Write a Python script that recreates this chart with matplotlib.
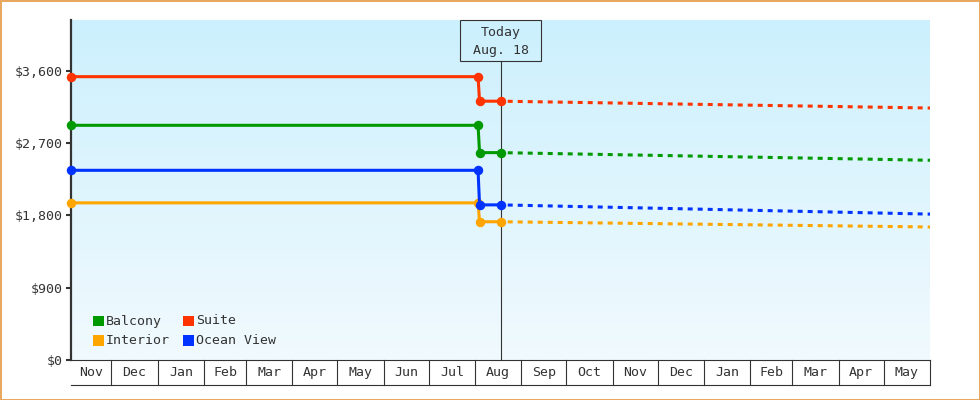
import matplotlib
matplotlib.use('Agg')
import matplotlib.pyplot as plt
import matplotlib.dates as mdates
from matplotlib.patches import Rectangle
from matplotlib.transforms import blended_transform_factory, IdentityTransform
from matplotlib.colors import LinearSegmentedColormap
import numpy as np
import datetime as dt

# ---------------- data ----------------
series_names = ['Balcony', 'Suite', 'Interior', 'Ocean View']
series_colors = ['#009900', '#ff3300', '#ffa500', '#0033ff']

history_dates = ['2024-11-04', '2025-08-03', '2025-08-04', '2025-08-18']
balcony_hist = [2920, 2920, 2580, 2580]
suite_hist = [3525, 3525, 3220, 3220]
interior_hist = [1955, 1955, 1720, 1720]
ocean_hist = [2360, 2360, 1930, 1930]

forecast_dates = ['2025-08-18', '2026-06-01']
balcony_fc = [2580, 2485]
suite_fc = [3220, 3135]
interior_fc = [1720, 1655]
ocean_fc = [1930, 1815]

today_date = '2025-08-18'
today_lines = ['Today', 'Aug. 18']

y_ticks = [0, 900, 1800, 2700, 3600]
y_tick_labels = ['$0', '$900', '$1,800', '$2,700', '$3,600']
y_max = 4230

x_start = '2024-11-04'
x_end = '2026-06-01'
month_boundaries = ['2024-12-01', '2025-01-01', '2025-02-01', '2025-03-01', '2025-04-01',
                    '2025-05-01', '2025-06-01', '2025-07-01', '2025-08-01', '2025-09-01',
                    '2025-10-01', '2025-11-01', '2025-12-01', '2026-01-01', '2026-02-01',
                    '2026-03-01', '2026-04-01', '2026-05-01', '2026-06-01']
month_labels = ['Nov', 'Dec', 'Jan', 'Feb', 'Mar', 'Apr', 'May', 'Jun', 'Jul', 'Aug',
                'Sep', 'Oct', 'Nov', 'Dec', 'Jan', 'Feb', 'Mar', 'Apr', 'May']

hist_values = [balcony_hist, suite_hist, interior_hist, ocean_hist]
fc_values = [balcony_fc, suite_fc, interior_fc, ocean_fc]

# ---------------- helpers ----------------
def d(s):
    return mdates.date2num(dt.datetime.strptime(s, '%Y-%m-%d'))

FONT = 'DejaVu Sans Mono'
FS = 9.5
DARK = '#333333'
TXT = '#333333'
W, H = 980, 400

plt.rcParams['lines.scale_dashes'] = False
fig = plt.figure(figsize=(W / 100, H / 100), dpi=100, facecolor='white',
                 edgecolor='#e8a860', linewidth=2)

L, R, T, B = 71, 930, 20, 360
ax = fig.add_axes([L / W, (H - B) / H, (R - L) / W, (B - T) / H])

# gradient background
cmap = LinearSegmentedColormap.from_list('bg', ['#ccf0fd', '#f1fafe'])
ax.imshow(np.linspace(0, 1, 256).reshape(-1, 1), cmap=cmap, aspect='auto',
          extent=[0, 1, 0, 1], transform=ax.transAxes, zorder=0)

ax.set_xlim(d(x_start), d(x_end))
ax.set_ylim(0, y_max)

for sp in ['top', 'right']:
    ax.spines[sp].set_visible(False)
ax.spines['left'].set_color(DARK)
ax.spines['left'].set_linewidth(1.6)
ax.spines['bottom'].set_color(DARK)
ax.spines['bottom'].set_linewidth(0.8)

ax.set_yticks(y_ticks)
ax.set_yticklabels(y_tick_labels, fontfamily=FONT, fontsize=FS, color=TXT)
ax.tick_params(axis='y', length=3.8, width=1.5, color=DARK, pad=1.8)
ax.set_xticks([])

# lines
today_num = d(today_date)
blend = blended_transform_factory(ax.transData, ax.transAxes)
ax.plot([today_num, today_num], [0, 1 - 40.7 / (B - T)], transform=blend,
        color=DARK, lw=0.8, zorder=3, clip_on=False)

for name, col, hv, fv in zip(series_names, series_colors, hist_values, fc_values):
    hx = [d(s) for s in history_dates]
    fx = [d(s) for s in forecast_dates]
    ax.plot(fx, fv, color=col, lw=2.2, linestyle=(2.0, (3.6, 3.6)), zorder=4,
            solid_capstyle='butt', dash_capstyle='butt')
    ax.plot(hx, hv, color=col, lw=2.2, marker='o', markersize=5.8, zorder=5,
            clip_on=False)

# month boxes below the axis
box_bottom = -(385 - B) / (B - T)
label_y = -(372.7 - B) / (B - T)
ax.plot([0, 1], [box_bottom, box_bottom], transform=ax.transAxes, color=DARK,
        lw=0.8, clip_on=False)
for mb in month_boundaries:
    ax.plot([d(mb), d(mb)], [0, box_bottom], transform=blend, color=DARK, lw=0.8,
            clip_on=False)
edges = [d(x_start)] + [d(m) for m in month_boundaries]
for i, lab in enumerate(month_labels):
    cx = (edges[i] + edges[i + 1]) / 2
    ax.text(cx, label_y, lab, transform=blend, ha='center', va='center',
            fontfamily=FONT, fontsize=FS, color=TXT)

# legend (manual)
def px_to_ax(px, py):
    return (px - L) / (R - L), (B - py) / (B - T)

legend_pos = [(93, 315.7), (183, 315.7), (93, 335.2), (183, 335.2)]
sq = 10.6
for (px, py), name, col in zip(legend_pos, series_names, series_colors):
    x0, y0 = px_to_ax(px, py + sq)
    ax.add_patch(Rectangle((x0, y0), sq / (R - L), sq / (B - T), transform=ax.transAxes,
                           facecolor=col, edgecolor='none', zorder=6))
    tx, ty = px_to_ax(px + sq + 2.5, py + sq / 2)
    ax.text(tx, ty, name, transform=ax.transAxes, ha='left', va='center',
            fontfamily=FONT, fontsize=FS, color=TXT, zorder=6)

# today box
tx_disp = ax.transData.transform((today_num, 0))[0]
fig.add_artist(Rectangle((tx_disp - 40.5, H - 60.7), 81, 40.7, transform=IdentityTransform(),
                         facecolor='none', edgecolor=DARK, lw=0.8))
fig.text(tx_disp, H - 32.7, today_lines[0], transform=IdentityTransform(), ha='center',
         va='center', fontfamily=FONT, fontsize=FS, color=TXT)
fig.text(tx_disp, H - 50.5, today_lines[1], transform=IdentityTransform(), ha='center',
         va='center', fontfamily=FONT, fontsize=FS, color=TXT)

fig.savefig('out.png', dpi=100)
